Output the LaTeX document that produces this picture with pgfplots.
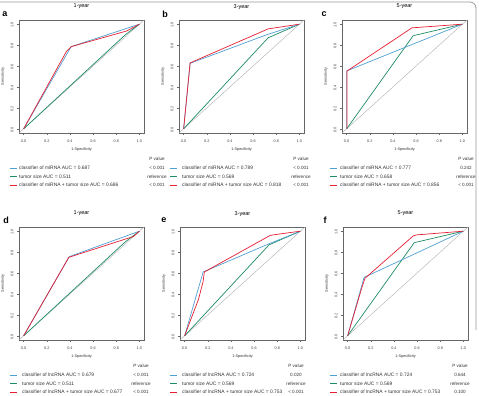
\documentclass[border=0pt]{standalone}
\usepackage{pgfplots}
\pgfplotsset{compat=1.18}
\usepackage{fontspec}
\setmainfont{Liberation Sans}

\definecolor{cblue}{RGB}{80,160,210}
\definecolor{cgreen}{RGB}{30,140,100}
\definecolor{cred}{RGB}{230,30,50}
\definecolor{cdiag}{RGB}{175,175,175}

\newcommand{\fs}[1]{\fontsize{#1}{#1}\selectfont}

\pgfplotsset{
  roc/.style={
    scale only axis, width=125pt, height=113pt,
    anchor=north west,
    xmin=-0.04, xmax=1.04, ymin=-0.04, ymax=1.04,
    axis line style={black!60, line width=0.5pt},
    xtick={0,0.2,0.4,0.6,0.8,1}, ytick={0,0.2,0.4,0.6,0.8,1},
    xticklabels={0.0,0.2,0.4,0.6,0.8,1.0},
    yticklabels={0.0,0.2,0.4,0.6,0.8,1.0},
    tick align=outside, major tick length=2pt,
    tick style={black!60, line width=0.4pt},
    xtick pos=bottom, ytick pos=left,
    tick label style={font=\fs{3.8}, text=black!75},
    xticklabel style={yshift=-1pt},
    yticklabel style={rotate=90, anchor=south, xshift=-1pt},
    xlabel={1-Specificity}, ylabel={Sensitivity},
    label style={font=\fs{3.8}, text=black!80},
    xlabel style={at={(axis description cs:0.5,-0.142)}, anchor=center},
    ylabel style={at={(axis description cs:-0.128,0.5)}, anchor=center},
    title style={at={(axis description cs:0.5,1.065)}, anchor=center, font=\fs{5.5}},
    every axis plot/.append style={line width=0.7pt, line join=round},
  },
  diag/.style={cdiag, line width=0.4pt},
}

% legend block: #1 x of line start, #2 y of header, #3 x of p-value column,
% #4 text offset, #5..#7 entries, #8..#10 p values
\newcommand{\roclegend}[9]{%
  \node[font=\fs{4.6}, text=black!80] at (#3pt,-#2pt) {P value};
  \draw[cblue, line width=0.6pt] (#1pt,-#2pt-9pt) -- ++(6.5pt,0);
  \draw[cgreen, line width=0.6pt] (#1pt,-#2pt-17.5pt) -- ++(6.5pt,0);
  \draw[cred, line width=0.6pt] (#1pt,-#2pt-26pt) -- ++(6.5pt,0);
  \node[font=\fs{4.9}, text=black!80, anchor=west, inner sep=0pt] at (#1pt+#4pt,-#2pt-9pt) {#5};
  \node[font=\fs{4.9}, text=black!80, anchor=west, inner sep=0pt] at (#1pt+#4pt,-#2pt-17.5pt) {#6};
  \node[font=\fs{4.9}, text=black!80, anchor=west, inner sep=0pt] at (#1pt+#4pt,-#2pt-26pt) {#7};
  \node[font=\fs{4.6}, text=black!80] at (#3pt,-#2pt-9pt) {#8};
  \node[font=\fs{4.6}, text=black!80] at (#3pt,-#2pt-17.5pt) {#9};
}
\newcommand{\lastp}[3]{\node[font=\fs{4.6}, text=black!80] at (#1pt,-#2pt-26pt) {#3};}

\begin{document}
\begin{tikzpicture}[x=1pt,y=1pt]
\path[use as bounding box] (0,0) rectangle (479pt,-396pt);

% outer frame
\draw[black!40, line width=0.8pt, rounded corners=6pt] (0,-2pt) -- (476pt,-2pt) -- (476pt,-330pt);

% panel letters
\foreach \l/\px/\py in {a/5/14, b/165/14, c/324/14, d/6/220, e/164/220, f/325/220}
  \node[font=\fs{9}\bfseries] at (\px pt,-\py pt) {\l};

% ---------- a: miRNA, 1-year ----------
\begin{axis}[roc, at={(19pt,-20pt)}, title={1-year}]
\addplot[diag] coordinates {(-0.04,-0.04) (1.04,1.04)};
\addplot[cgreen] coordinates {(0,0) (0.88,0.90) (1,1)};
\addplot[cblue] coordinates {(0,0) (0.41,0.785) (1,1)};
\addplot[cred] coordinates {(0,0) (0.37,0.74) (0.41,0.785) (0.89,0.935) (1,1)};
\end{axis}

% ---------- b: miRNA, 3-year ----------
\begin{axis}[roc, at={(179pt,-20pt)}, title={3-year}]
\addplot[diag] coordinates {(-0.04,-0.04) (1.04,1.04)};
\addplot[cgreen] coordinates {(0,0) (0.73,0.87) (1,1)};
\addplot[cblue] coordinates {(0,0) (0.056,0.626) (0.72,0.90) (1,1)};
\addplot[cred] coordinates {(0,0) (0.056,0.63) (0.73,0.955) (1,1)};
\end{axis}

% ---------- c: miRNA, 5-year ----------
\begin{axis}[roc, at={(342pt,-20pt)}, title={5-year}]
\addplot[diag] coordinates {(-0.04,-0.04) (1.04,1.04)};
\addplot[cgreen] coordinates {(0,0) (0.575,0.89) (1,1)};
\addplot[cblue] coordinates {(0,0) (0,0.553) (1,1)};
\addplot[cred] coordinates {(0.004,0) (0.004,0.553) (0.564,0.965) (1,1)};
\end{axis}

% ---------- d: lncRNA, 1-year ----------
\begin{axis}[roc, at={(19pt,-227pt)}, title={1-year}]
\addplot[diag] coordinates {(-0.04,-0.04) (1.04,1.04)};
\addplot[cgreen] coordinates {(0,0) (0.88,0.90) (1,1)};
\addplot[cblue] coordinates {(0,0) (0.395,0.757) (1,1)};
\addplot[cred] coordinates {(0,0) (0.39,0.75) (0.95,0.95) (1,1)};
\end{axis}

% ---------- e: lncRNA, 3-year ----------
\begin{axis}[roc, at={(180pt,-227pt)}, title={3-year}]
\addplot[diag] coordinates {(-0.04,-0.04) (1.04,1.04)};
\addplot[cgreen] coordinates {(0,0) (0.73,0.87) (1,1)};
\addplot[cblue] coordinates {(0,0) (0.16,0.61) (0.73,0.88) (1,1)};
\addplot[cred] coordinates {(0,0) (0.12,0.35) (0.16,0.52) (0.17,0.61) (0.74,0.96) (0.80,0.97) (1,1)};
\end{axis}

% ---------- f: lncRNA, 5-year ----------
\begin{axis}[roc, at={(343pt,-227pt)}, title={5-year}]
\addplot[diag] coordinates {(-0.04,-0.04) (1.04,1.04)};
\addplot[cgreen] coordinates {(0,0) (0.575,0.89) (1,1)};
\addplot[cblue] coordinates {(0,0) (0.142,0.558) (1,1)};
\addplot[cred] coordinates {(0,0) (0.12,0.45) (0.15,0.55) (0.568,0.956) (0.60,0.965) (1,1)};
\end{axis}

% ---------- legends ----------
\roclegend{10}{159}{157}{9}{classifier of miRNA AUC = 0.687}{tumor size AUC = 0.511}{classifier of miRNA + tumor size AUC = 0.686}{< 0.001}{reference}
\lastp{157}{159}{< 0.001}
\roclegend{170}{159}{301}{12}{classifier of miRNA AUC = 0.789}{tumor size AUC = 0.569}{classifier of miRNA + tumor size AUC = 0.818}{< 0.001}{reference}
\lastp{301}{159}{< 0.001}
\roclegend{330}{159}{466}{10}{classifier of miRNA AUC = 0.777}{tumor size AUC = 0.658}{classifier of miRNA + tumor size AUC = 0.856}{0.242}{reference}
\lastp{466}{159}{< 0.001}

\roclegend{10}{366}{141}{12}{classifier of lncRNA AUC = 0.679}{tumor size AUC = 0.511}{classifier of lncRNA + tumor size AUC = 0.677}{< 0.001}{reference}
\lastp{141}{366}{< 0.001}
\roclegend{170}{366}{296}{12}{classifier of lncRNA AUC = 0.724}{tumor size AUC = 0.569}{classifier of lncRNA + tumor size AUC = 0.753}{0.020}{reference}
\lastp{296}{366}{< 0.001}
\roclegend{330}{366}{460}{10}{classifier of lncRNA AUC = 0.724}{tumor size AUC = 0.569}{classifier of lncRNA + tumor size AUC = 0.753}{0.644}{reference}
\lastp{460}{366}{0.100}
\end{tikzpicture}
\end{document}
